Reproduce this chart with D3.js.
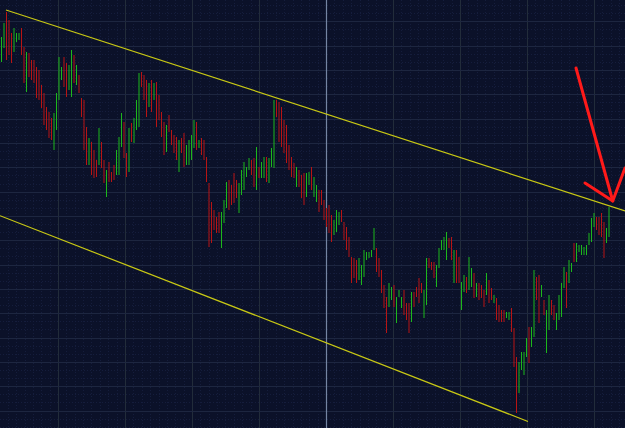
<!DOCTYPE html>
<html><head><meta charset="utf-8">
<script src="https://cdn.jsdelivr.net/npm/d3@7"></script>
<style>html,body{margin:0;padding:0;background:#0b1129;overflow:hidden}</style>
</head><body><svg id="c" width="625" height="428"></svg>
<script>
// ---- data (price points, bar index order) ----
const highs = [
963,977,988,980,967,972,967,967,972,953,
948,947,940,940,933,930,915,907,893,888,
882,887,907,943,933,943,937,935,950,945,
935,925,902,900,873,862,858,850,840,872,
858,840,830,838,828,835,850,863,887,878,
847,872,877,882,900,927,928,925,920,917,
920,917,918,905,888,878,875,885,870,865,
863,860,862,867,855,860,865,880,878,860,
862,860,843,817,798,790,783,788,788,800,
818,820,815,827,820,817,830,838,833,842,
840,842,853,833,838,843,843,842,852,900,
900,898,893,880,875,855,843,837,833,830,
825,827,827,828,833,823,815,810,810,800,
792,795,785,780,790,788,790,778,773,763,
743,742,740,742,735,750,748,748,750,772,
752,742,730,715,703,717,713,715,703,710,
703,710,697,697,708,708,713,722,717,710,
742,742,738,738,735,752,760,763,768,762,
763,750,750,743,718,725,723,743,732,727,
717,717,715,710,727,720,712,705,702,695,
690,690,688,688,692,672,643,638,648,648,
662,673,673,730,723,725,715,700,690,705,
700,695,687,705,717,733,728,740,737,757,
757,755,755,753,755,767,782,787,783,783,
787,778,772,793];
const lows = [
938,952,940,945,937,948,958,960,945,917,
908,923,920,917,902,900,892,875,870,862,
860,850,870,900,920,913,903,910,903,917,
915,907,883,850,835,835,825,822,823,835,
832,817,803,818,818,820,825,825,853,842,
823,828,858,857,870,873,913,900,883,893,
888,900,873,880,863,845,848,868,855,847,
840,828,847,833,835,835,840,852,850,852,
845,840,818,753,757,770,767,767,752,777,
792,790,795,797,802,787,805,810,823,830,
825,813,810,822,822,822,818,817,833,832,
883,858,853,847,837,830,823,822,813,813,
802,795,803,815,810,803,798,788,795,780,
773,767,758,765,768,775,778,760,750,743,
717,722,717,720,715,723,740,742,743,750,
728,723,707,692,667,693,700,693,677,703,
692,685,680,667,678,693,703,697,707,682,
695,732,730,722,713,732,750,750,740,752,
740,717,717,717,690,708,707,710,713,702,
703,700,702,693,705,697,700,697,680,678,
678,678,682,680,668,633,587,607,630,625,
643,637,653,663,700,677,703,685,647,670,
685,680,670,680,683,712,692,717,728,738,
738,748,745,745,745,755,758,773,770,765,
763,742,757,763];
// G = up bar, R = down bar
const direction = (
"GGRRRGGGRR"+"GRRRRRRRRR"+"RGGGGRRGGR"+"GRRRRGRRRG"+"RRGRRRGGGR"+
"RGRGGGRRRG"+"RGRRRRGRRR"+"RGRRGGGGRG"+"RRRRRRRRGG"+"GRRRRGGGGG"+
"RRGRGGRGGG"+"RRRRRRRRGR"+"RRGGRGGRRR"+"RRRGGGRRRR"+"RRRGGGGGGG"+
"RRRRRGGRGG"+"GRRRGRRRRG"+"GRRRGGGGGR"+"RGRRGGRGGR"+"GRRRGRRGRR"+
"RRGGRRRGGG"+"GRGGRRGRGG"+"RRGGGGRGGR"+"GGGGGGGGRR"+"RRGG").split("");
const upperTrend = [{bar:1.8, price:990}, {bar:249.4, price:789}];
const lowerTrend = [{bar:-0.6, price:784.3}, {bar:210.6, price:578.5}];
const markerBar = 129.8;
const arrowShaft = [{bar:229.8, price:932}, {bar:244.5, price:799}];
const arrowHead = [{bar:233.4, price:817}, {bar:244.5, price:799}, {bar:249.4, price:832}];

// ---- drawing ----
const W = 625, H = 428;
const svg = d3.select("#c");
const x = d3.scaleLinear().domain([0, highs.length - 1]).range([1.5, 609]);
const y = d3.scaleLinear().domain([572, 1000]).range([H, 0]);

svg.append("rect").attr("width", W).attr("height", H).attr("fill", "#0b1129");

// fine dotted grid
const g = svg.append("g");
const vStep = 26.8, hStep = 1000 - 975.67;
const vMinor = d3.range(22.6 - vStep, 260, vStep / 8);
const hMinor = d3.range(1000 - 21.3 + hStep, 560, -hStep / 3);
g.selectAll(".vm").data(vMinor).join("line")
  .attr("x1", d => Math.round(x(d)) + 0.5).attr("x2", d => Math.round(x(d)) + 0.5)
  .attr("y1", 0).attr("y2", H).attr("stroke", "#151d3c").attr("stroke-width", 1)
  .attr("stroke-dasharray", "1,2");
g.selectAll(".hm").data(hMinor).join("line")
  .attr("y1", d => Math.round(y(d)) + 0.5).attr("y2", d => Math.round(y(d)) + 0.5)
  .attr("x1", 0).attr("x2", W).attr("stroke", "#151d3c").attr("stroke-width", 1)
  .attr("stroke-dasharray", "1,2");
// main grid
const vMajor = d3.range(22.6 - vStep, 260, vStep);
const hMajor = d3.range(1000 - 21.3 + hStep, 560, -hStep);
g.selectAll(".vM").data(vMajor).join("line")
  .attr("x1", d => Math.round(x(d)) + 0.5).attr("x2", d => Math.round(x(d)) + 0.5)
  .attr("y1", 0).attr("y2", H).attr("stroke", "#222c3a").attr("stroke-width", 1);
g.selectAll(".hM").data(hMajor).join("line")
  .attr("y1", d => Math.round(y(d)) + 0.5).attr("y2", d => Math.round(y(d)) + 0.5)
  .attr("x1", 0).attr("x2", W).attr("stroke", "#1d2640").attr("stroke-width", 1);

// marker vertical line
svg.append("line").attr("x1", Math.round(x(markerBar)) + 0.5).attr("x2", Math.round(x(markerBar)) + 0.5)
  .attr("y1", 0).attr("y2", H).attr("stroke", "#7585a3").attr("stroke-width", 1.2);

// bars
svg.append("g").selectAll("line").data(highs).join("line")
  .attr("x1", (d, i) => x(i)).attr("x2", (d, i) => x(i))
  .attr("y1", d => y(d)).attr("y2", (d, i) => y(lows[i]))
  .attr("stroke", (d, i) => direction[i] === "G" ? "#1cb81c" : "#b81414")
  .attr("stroke-width", 1);

// trend lines
const line = d3.line().x(d => x(d.bar)).y(d => y(d.price));
[upperTrend, lowerTrend].forEach(t => {
  svg.append("path").attr("d", line(t)).attr("fill", "none")
    .attr("stroke", "#c8c814").attr("stroke-width", 1.2);
});

// arrow
[arrowShaft, arrowHead].forEach(a => {
  svg.append("path").attr("d", line(a)).attr("fill", "none")
    .attr("stroke", "#ff1a1a").attr("stroke-width", 3)
    .attr("stroke-linecap", "round").attr("stroke-linejoin", "round");
});
</script>
</body></html>
